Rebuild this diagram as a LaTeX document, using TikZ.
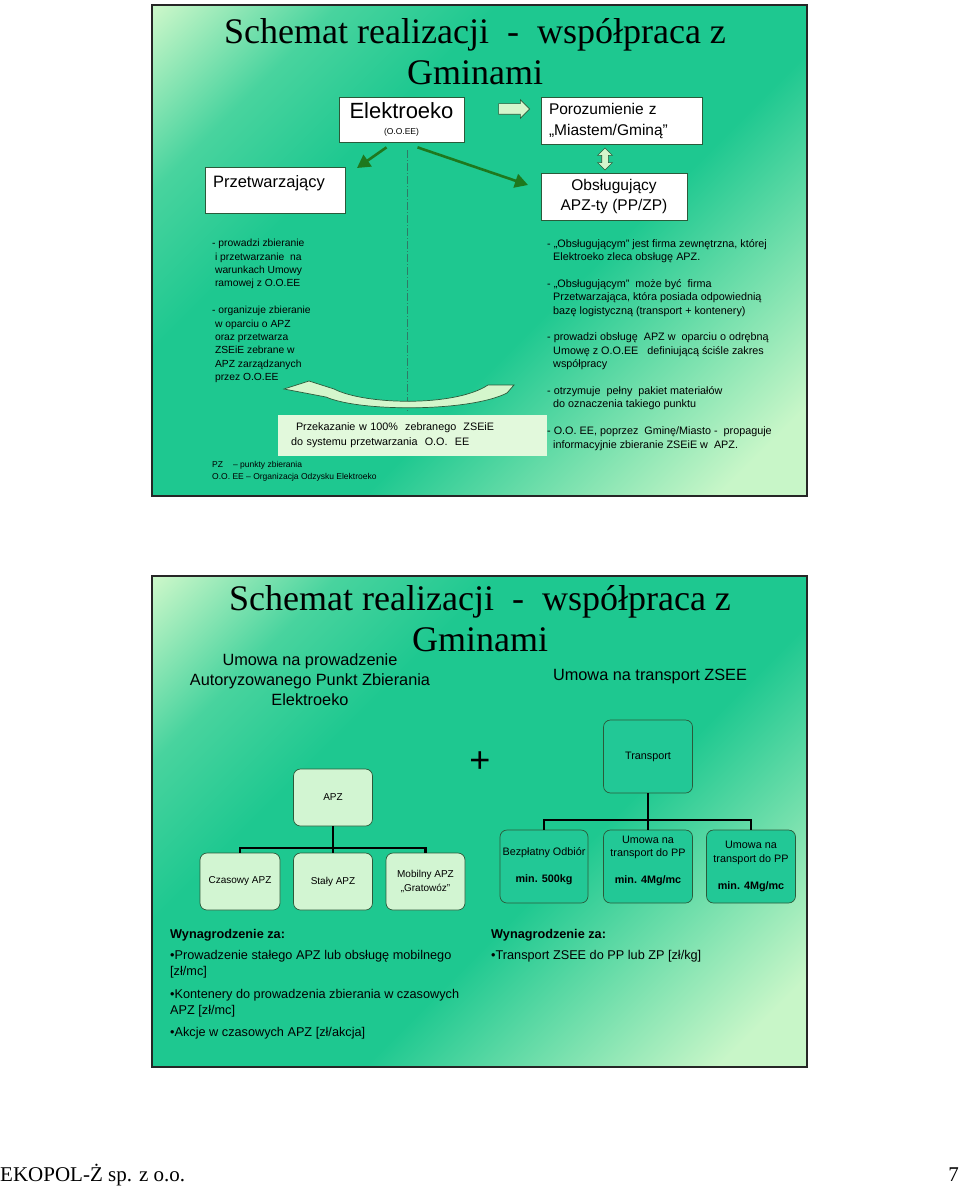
\documentclass[tikz,border=0pt]{standalone}
\usepackage{fontspec}
\setmainfont{Liberation Sans}
\newfontfamily\titleserif{Liberation Serif}
\usetikzlibrary{arrows.meta,shapes.arrows}
\definecolor{slidelight}{HTML}{C8F6C8}
\definecolor{slideteal}{HTML}{1EC890}
\definecolor{arrowgreen}{HTML}{1E781E}
\definecolor{palefill}{HTML}{D4F6CC}
\definecolor{passfill}{HTML}{E2F9DC}
\definecolor{paleapz}{HTML}{D2F5D2}
\definecolor{tealbox}{HTML}{22C896}
\definecolor{boxline}{HTML}{2B5A3A}
\definecolor{axiscolor}{HTML}{2F7A66}
\pgfdeclarehorizontalshading{slidebg}{100bp}{color(0bp)=(slidelight); color(15bp)=(slidelight); color(26bp)=(slideteal!75!slidelight); color(36bp)=(slideteal); color(58bp)=(slideteal); color(80bp)=(slidelight); color(100bp)=(slidelight)}
\newcommand{\fsz}[2]{\fontsize{#1}{#2}\selectfont}
\tikzset{
  slide/.style={shade, shading=slidebg, shading angle=-45, draw=black!85, line width=1.8pt},
  slidetitle/.style={font=\titleserif\fsz{36}{41}, align=center, inner sep=0pt},
  plainbox/.style={draw=boxline, fill=white, line width=0.7pt, inner sep=0pt, align=center},
  greenarrow/.style={draw=arrowgreen, line width=2.6pt, -{Triangle[length=13pt,width=14pt]}},
  blockarrow/.style={draw=boxline, fill=palefill, line width=0.6pt, inner xsep=0pt},
  axisline/.style={draw=axiscolor, line width=0.6pt, dash pattern=on 8pt off 2pt on 1pt off 2pt},
  curvefill/.style={draw=boxline, fill=palefill, line width=0.7pt},
  notes/.style={font=\fsz{10.3}{13.4}, align=left, inner sep=0pt, anchor=north west},
  apzbox/.style={draw=boxline, fill=paleapz, rounded corners=7pt, line width=0.7pt, minimum width=79, minimum height=57, inner sep=0pt, align=center, font=\fsz{10}{13.5}},
  transbox/.style={apzbox, fill=tealbox, minimum width=89, minimum height=73, font=\fsz{10.8}{13.5}},
  treeline/.style={line width=2.2pt, black},
}
\begin{document}
\begin{tikzpicture}[x=1pt,y=-1pt]
  \useasboundingbox (0,0) rectangle (960,1188);
  % first slide
  \path[slide] (152,5) rectangle (807,496);
  \node[slidetitle] (title1) at (475,52) {Schemat realizacji\ \ -\ \ współpraca z\\Gminami};
  \node[plainbox, minimum width=125, minimum height=45] (elektroeko) at (401.5,119.5)
    {{\fsz{22}{22}Elektroeko}\\[4pt]{\fsz{8.5}{10}(O.O.EE)}};
  \node[plainbox, minimum width=161, minimum height=47, text width=145, inner xsep=8, align=left,
    font=\fsz{15.5}{21}] (porozumienie) at (621.5,121) {Porozumienie z\\„Miastem/Gminą”};
  \node[plainbox, minimum width=146, minimum height=47, font=\fsz{15.5}{20}] (obslugujacy)
    at (614,196.5) {Obsługujący\\APZ-ty (PP/ZP)};
  \node[plainbox, minimum width=140, minimum height=46, text width=124, inner xsep=8, align=left,
    font=\fsz{16.5}{16}] (przetwarzajacy) at (275,190) {Przetwarzający\\\mbox{}};
  \node[blockarrow, single arrow, inner ysep=5pt, minimum width=18, minimum height=31,
    single arrow head extend=4pt] (doporozumienia) at (511.5,109) {};
  \node[blockarrow, double arrow, inner ysep=3pt, minimum width=14, minimum height=22,
    double arrow head extend=4pt, rotate=90] (porozobsl) at (605,159) {};
  \coordinate (przetwtip) at (357,168);
  \coordinate (obsltip) at (528,185);
  \draw[greenarrow] ([xshift=-15pt,yshift=-5pt]elektroeko.south) -- (przetwtip);
  \draw[greenarrow] ([xshift=16pt,yshift=-5pt]elektroeko.south) -- (obsltip);
  \node[fill=passfill, minimum width=269, minimum height=41, text width=243, inner xsep=13,
    inner ysep=0pt, align=left, font=\fsz{10.8}{15}] (przekazanie) at (412.5,435.5)
    {\hspace*{5pt}Przekazanie w 100\%\ \ zebranego\ \ ZSEiE\\do systemu przetwarzania\ \ O.O.\ \ EE};
  \draw[axisline] ([xshift=5.5pt,yshift=-8pt]elektroeko.south) -- ([xshift=-5.5pt,yshift=4pt]przekazanie.north);
  \node[notes] (przetwnotes) at (212,239) {- prowadzi zbieranie\\
    \ i przetwarzanie\ \ na\\
    \ warunkach Umowy\\
    \ ramowej z O.O.EE\\[13.4pt]
    - organizuje zbieranie\\
    \ w oparciu o APZ\\
    \ oraz przetwarza\\
    \ ZSEiE zebrane w\\
    \ APZ zarządzanych\\
    \ przez O.O.EE};
  \node[notes, font=\fsz{10.8}{13.4}] (obslnotes) at (547,239) {- „Obsługującym” jest firma zewnętrzna, której\\
    \ \ Elektroeko zleca obsługę APZ.\\[13.4pt]
    - „Obsługującym”\ \ może być\ \ firma\\
    \ \ Przetwarzająca, która posiada odpowiednią\\
    \ \ bazę logistyczną (transport + kontenery)\\[13.4pt]
    - prowadzi obsługę\ \ APZ w\ \ oparciu o odrębną\\
    \ \ Umowę z O.O.EE\ \ \ definiującą ściśle zakres\\
    \ \ współpracy\\[13.4pt]
    - otrzymuje\ \ pełny\ \ pakiet materiałów\\
    \ \ do oznaczenia takiego punktu\\[13.4pt]
    - O.O. EE, poprzez\ \ Gminę/Miasto -\ \ propaguje\\
    \ \ informacyjnie zbieranie ZSEiE w\ \ APZ.};
  % curved block arrow
  \filldraw[curvefill] (514,385) -- (507,393) .. controls (470,412) and (360,412) .. (326,397)
    -- (284,389) -- (309,381) -- (334,389) .. controls (365,405) and (455,407) .. (488,385) -- cycle;
  \node[notes, font=\fsz{8.5}{12}] (skroty) at (212,461)
    {PZ\hspace{10pt}– punkty zbierania\\O.O. EE – Organizacja Odzysku Elektroeko};
  % second slide
  \path[slide] (152,576) rectangle (807,1067);
  \node[slidetitle] (title2) at (480,619) {Schemat realizacji\ \ -\ \ współpraca z\\Gminami};
  \node[align=center, inner sep=0pt, font=\fsz{16.3}{20}] (umowaapz) at (310,680)
    {Umowa na prowadzenie\\Autoryzowanego Punkt Zbierania\\Elektroeko};
  \node[inner sep=0pt, font=\fsz{16.3}{20}] (umowatrans) at (650,676) {Umowa na transport ZSEE};
  \node[inner sep=0pt, font=\fsz{36}{36}] (plus) at (480,762) {+};
  \node[apzbox] (apz) at (333,797.5) {APZ};
  \node[apzbox, minimum width=80] (czasowy) at (240,881.5) {Czasowy APZ};
  \node[apzbox] (staly) at (333,881.5) {Stały APZ};
  \node[apzbox] (mobilny) at (425.5,881.5) {Mobilny APZ\\„Gratowóz”};
  \node[transbox] (transport) at (648,756.5) {Transport};
  \node[transbox, minimum width=88] (bezplatny) at (544,866.5)
    {Bezpłatny Odbiór\\[13.5pt]\textbf{min. 500kg}};
  \node[transbox] (umowapp) at (648,866.5)
    {Umowa na\\transport do PP\\[13.5pt]\textbf{min. 4Mg/mc}\\\mbox{}};
  \node[transbox] (umowappdwa) at (751,866.5)
    {Umowa na\\transport do PP\\[13.5pt]\textbf{min. 4Mg/mc}};
  \begin{scope}[treeline]
    \draw (apz.south) -- ++(0,22) coordinate (apzfork);
    \draw (apzfork) -| (czasowy.north);
    \draw (apzfork) -- (staly.north);
    \draw (apzfork) -| (mobilny.north);
    \draw (transport.south) -- ++(0,27) coordinate (transfork);
    \draw (transfork) -| (bezplatny.north);
    \draw (transfork) -- (umowapp.north);
    \draw (transfork) -| (umowappdwa.north);
  \end{scope}
  \node[notes, font=\fsz{12.7}{16}] (wynagrodzenieapz) at (170,929)
    {\textbf{Wynagrodzenie za:}\\[5pt]
    •Prowadzenie stałego APZ lub obsługę mobilnego\\
    {[zł/mc]}\\[7pt]
    •Kontenery do prowadzenia zbierania w czasowych\\
    APZ [zł/mc]\\[6pt]
    •Akcje w czasowych APZ [zł/akcja]};
  \node[notes, font=\fsz{12.7}{16}] (wynagrodzenietrans) at (491,929)
    {\textbf{Wynagrodzenie za:}\\[5pt]
    •Transport ZSEE do PP lub ZP [zł/kg]};
  % footer
  \node[anchor=west, inner sep=0pt, font=\titleserif\fsz{21}{21}] (firma) at (0,1175) {EKOPOL-Ż sp. z o.o.};
  \node[anchor=east, inner sep=0pt, font=\titleserif\fsz{21}{21}] (strona) at (959,1175) {7};
\end{tikzpicture}
\end{document}
